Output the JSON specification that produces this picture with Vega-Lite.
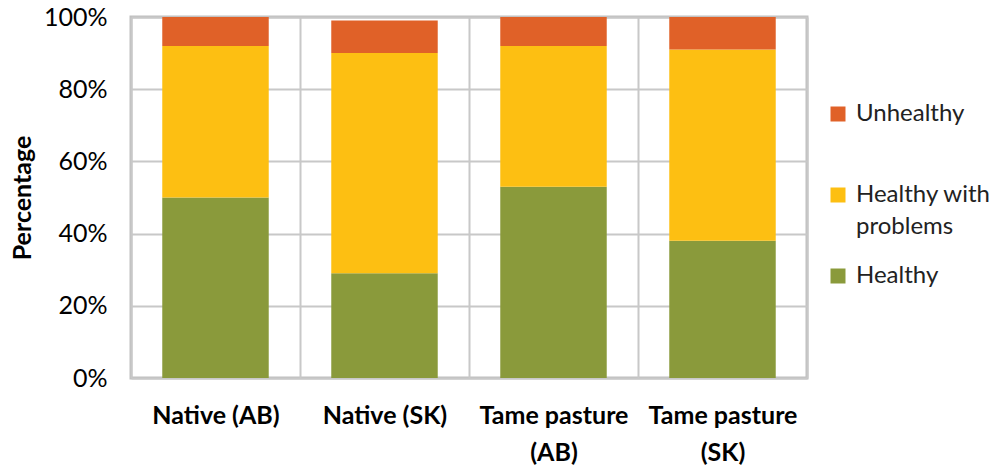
{
  "$schema": "https://vega.github.io/schema/vega-lite/v6.json",
  "autosize": {"type": "none"},
  "width": 676,
  "height": 361,
  "padding": {"left": 131, "top": 17, "right": 191, "bottom": 87},
  "background": "white",
  "config": {
    "font": "Lato",
    "view": {"stroke": "#BFBFBF", "strokeWidth": 3},
    "axis": {"gridColor": "#C8C8C8", "gridWidth": 2, "gridOpacity": 1, "domain": false, "ticks": false, "labelColor": "#000", "titleColor": "#000"}
  },
  "data": {
    "values": [
      {"site": "Native (AB)", "status": "Healthy", "pct": 50},
      {"site": "Native (AB)", "status": "Healthy with problems", "pct": 42},
      {"site": "Native (AB)", "status": "Unhealthy", "pct": 8},
      {"site": "Native (SK)", "status": "Healthy", "pct": 29},
      {"site": "Native (SK)", "status": "Healthy with problems", "pct": 61},
      {"site": "Native (SK)", "status": "Unhealthy", "pct": 9},
      {"site": "Tame pasture (AB)", "status": "Healthy", "pct": 53},
      {"site": "Tame pasture (AB)", "status": "Healthy with problems", "pct": 39},
      {"site": "Tame pasture (AB)", "status": "Unhealthy", "pct": 8},
      {"site": "Tame pasture (SK)", "status": "Healthy", "pct": 38},
      {"site": "Tame pasture (SK)", "status": "Healthy with problems", "pct": 53},
      {"site": "Tame pasture (SK)", "status": "Unhealthy", "pct": 9}
    ]
  },
  "mark": {"type": "bar", "width": {"band": 0.63}},
  "encoding": {
    "x": {
      "field": "site", "type": "nominal", "sort": null,
      "scale": {"paddingInner": 0, "paddingOuter": 0},
      "axis": {
        "title": null, "labelAngle": 0, "grid": true, "tickBand": "extent",
        "labelFontSize": 25, "labelFontWeight": "bold", "labelPadding": 25,
        "labelLineHeight": 37, "labelBaseline": "top", "labelLimit": 300,
        "labelExpr": "datum.label == 'Tame pasture (AB)' ? ['Tame pasture', '(AB)'] : datum.label == 'Tame pasture (SK)' ? ['Tame pasture', '(SK)'] : datum.label"
      }
    },
    "y": {
      "field": "pct", "type": "quantitative", "stack": "zero",
      "scale": {"domain": [0, 100], "nice": false},
      "axis": {
        "title": "Percentage", "values": [0, 20, 40, 60, 80, 100],
        "labelExpr": "datum.value + '%'", "labelFontSize": 25, "labelPadding": 24,
        "titleFontSize": 25, "titleFontWeight": "bold", "titlePadding": 8, "grid": true
      }
    },
    "order": {"field": "status", "sort": "ascending"},
    "color": {
      "field": "status", "type": "nominal",
      "scale": {"domain": ["Unhealthy", "Healthy with problems", "Healthy"], "range": ["#E06128", "#FDBF12", "#8A9A3B"]},
      "legend": {
        "title": null, "orient": "none", "legendX": 695, "legendY": 85, "symbolType": "square", "symbolSize": 225,
        "symbolStrokeWidth": 0, "labelFontSize": 24, "labelColor": "#222", "labelLimit": 200,
        "rowPadding": 25, "labelOffset": 6,
        "encode": {"labels": {"update": {"lineHeight": {"value": 32}}}},
        "labelExpr": "datum.label == 'Healthy with problems' ? ['Healthy with', 'problems'] : datum.label == 'Unhealthy' ? ['Unhealthy', ' '] : datum.label"
      }
    }
  }
}
